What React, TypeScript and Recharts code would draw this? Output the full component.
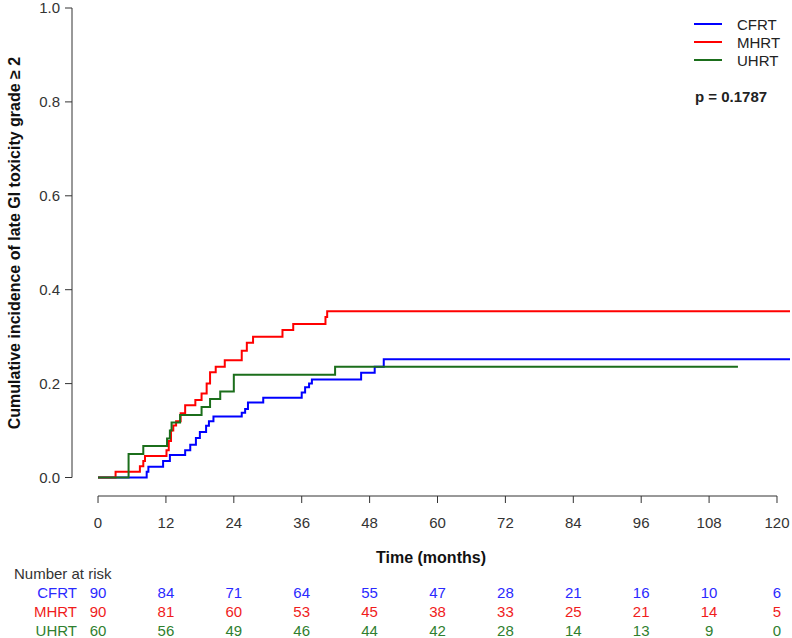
import React from 'react';
import { LineChart, Line, XAxis, YAxis, ReferenceLine, Legend, Label } from 'recharts';

// time axis (months) and y ticks
const timeTicks = [0, 12, 24, 36, 48, 60, 72, 84, 96, 108, 120];
const yTicks = [0, 0.2, 0.4, 0.6, 0.8, 1.0];

const groupNames = ['CFRT', 'MHRT', 'UHRT'];
const lineColors = ['#0000ff', '#ff0000', '#1b6e1b'];
const textColors = ['#2a2aff', '#f01c1c', '#2f7f2f'];

// [month, cumulative incidence] step points
const cfrtSteps: [number, number][] = [
  [0, 0], [8.6, 0.012], [8.9, 0.023], [11.5, 0.035], [12.7, 0.048], [15.4, 0.058],
  [16.3, 0.07], [17.3, 0.084], [18.0, 0.097], [19.1, 0.11], [19.6, 0.12], [20.4, 0.13],
  [25.4, 0.138], [26.0, 0.146], [26.5, 0.16], [29.2, 0.17], [36.0, 0.181], [36.6, 0.192],
  [37.3, 0.2], [37.8, 0.209], [46.5, 0.223], [48.9, 0.236], [50.5, 0.252], [122.3, 0.252],
];
const mhrtSteps: [number, number][] = [
  [0, 0], [3.1, 0.012], [7.4, 0.024], [8.0, 0.035], [8.3, 0.046], [12.1, 0.058],
  [12.5, 0.078], [12.9, 0.1], [13.3, 0.111], [13.8, 0.12], [14.6, 0.137], [15.4, 0.154],
  [17.2, 0.165], [18.3, 0.179], [19.2, 0.2], [19.8, 0.224], [20.8, 0.236], [22.4, 0.25],
  [25.4, 0.27], [26.3, 0.287], [27.4, 0.3], [32.6, 0.314], [34.5, 0.327], [40.2, 0.342],
  [40.5, 0.354], [122.3, 0.354],
];
const uhrtSteps: [number, number][] = [
  [0, 0], [5.4, 0.05], [8.0, 0.067], [12.2, 0.083], [12.7, 0.1], [13.0, 0.117],
  [14.5, 0.133], [18.3, 0.15], [19.8, 0.167], [21.6, 0.183], [24.0, 0.219],
  [41.9, 0.236], [113.1, 0.236],
];

// number at risk at each time tick
const cfrtRisk = [90, 84, 71, 64, 55, 47, 28, 21, 16, 10, 6];
const mhrtRisk = [90, 81, 60, 53, 45, 38, 33, 25, 21, 14, 5];
const uhrtRisk = [60, 56, 49, 46, 44, 42, 28, 14, 13, 9, 0];

const pValue = 'p = 0.1787';

const allSteps = [cfrtSteps, mhrtSteps, uhrtSteps];
const allRisk = [cfrtRisk, mhrtRisk, uhrtRisk];

const FONT = '"Liberation Sans", Arial, sans-serif';
const AXIS = '#333';
const X_DOMAIN: [number, number] = [-4.6, 122.3];
const Y_DOMAIN: [number, number] = [-0.0394, 1];
const riskRowY = [592, 611, 630];

const toPoints = (steps: [number, number][]) => steps.map(([t, v]) => ({ t, v }));

const RiskTick = (props: any) => {
  const { x, payload, index } = props;
  const i = timeTicks.indexOf(payload.value);
  return (
    <g fontFamily={FONT} fontSize={15}>
      {index === 0 && (
        <>
          <text x={14} y={573} fill={AXIS} dominantBaseline="central">Number at risk</text>
          {groupNames.map((g, r) => (
            <text key={g} x={77} y={riskRowY[r]} fill={textColors[r]} textAnchor="end" dominantBaseline="central">{g}</text>
          ))}
        </>
      )}
      {allRisk.map((row, r) => (
        <text key={r} x={x} y={riskRowY[r]} fill={textColors[r]} textAnchor="middle" dominantBaseline="central">
          {row[i]}
        </text>
      ))}
    </g>
  );
};

const LegendBox = (props: any) => {
  const { payload = [] } = props;
  return (
    <div style={{ fontFamily: FONT, fontSize: 15, color: '#222' }}>
      {payload.map((p: any) => (
        <div key={p.value} style={{ display: 'flex', alignItems: 'center', height: 18 }}>
          <div style={{ width: 28, height: 2, background: p.color, marginRight: 15 }} />
          <span>{p.value}</span>
        </div>
      ))}
      <div style={{ fontWeight: 'bold', marginTop: 19, marginLeft: 1 }}>{pValue}</div>
    </div>
  );
};

export default function App() {
  return (
    <div style={{ position: 'absolute', left: 0, top: 0, background: '#fff' }}>
      <LineChart width={792} height={638} margin={{ top: 8, right: 2, left: 0, bottom: 0 }}>
        <XAxis
          type="number"
          dataKey="t"
          domain={X_DOMAIN}
          allowDataOverflow
          ticks={timeTicks}
          interval={0}
          axisLine={false}
          tickLine={{ stroke: AXIS }}
          tickSize={7}
          tickMargin={14}
          height={60}
          tick={{ fill: AXIS, fontSize: 15, fontFamily: FONT }}
        >
          <Label
            content={({ viewBox }: any) => (
              <text x={viewBox.x + viewBox.width / 2} y={557} textAnchor="middle" dominantBaseline="central"
                fontFamily={FONT} fontSize={16} fontWeight="bold" fill="#111">
                Time (months)
              </text>
            )}
          />
        </XAxis>
        <XAxis
          xAxisId="risk"
          type="number"
          dataKey="t"
          domain={X_DOMAIN}
          allowDataOverflow
          ticks={timeTicks}
          interval={0}
          axisLine={false}
          tickLine={false}
          height={82}
          tick={(p: any) => <RiskTick {...p} />}
        />
        <YAxis
          type="number"
          domain={Y_DOMAIN}
          allowDataOverflow
          ticks={yTicks}
          interval={0}
          width={72}
          axisLine={false}
          tickLine={{ stroke: AXIS }}
          tickSize={7}
          tickMargin={5}
          tickFormatter={(v: number) => v.toFixed(1)}
          tick={{ fill: AXIS, fontSize: 15, fontFamily: FONT }}
        >
          <Label
            content={() => (
              <text x={14} y={243} transform="rotate(-90 14 243)" textAnchor="middle" dominantBaseline="central"
                fontFamily={FONT} fontSize={16} fontWeight="bold" fill="#111">
                Cumulative incidence of late GI toxicity grade ≥ 2
              </text>
            )}
          />
        </YAxis>
        {/* detached R-style axis lines */}
        <ReferenceLine segment={[{ x: X_DOMAIN[0], y: 0 }, { x: X_DOMAIN[0], y: 1 }]} stroke={AXIS} ifOverflow="visible" />
        <ReferenceLine segment={[{ x: 0, y: Y_DOMAIN[0] }, { x: 120, y: Y_DOMAIN[0] }]} stroke={AXIS} ifOverflow="visible" />
        <Legend
          layout="vertical"
          align="center"
          verticalAlign="middle"
          content={<LegendBox />}
          wrapperStyle={{ left: 694, top: 15, width: 100 }}
        />
        {allSteps.map((steps, k) => (
          <Line
            key={groupNames[k]}
            name={groupNames[k]}
            data={toPoints(steps)}
            dataKey="v"
            type="stepAfter"
            stroke={lineColors[k]}
            strokeWidth={2}
            dot={false}
            activeDot={false}
            isAnimationActive={false}
          />
        ))}
      </LineChart>
    </div>
  );
}
